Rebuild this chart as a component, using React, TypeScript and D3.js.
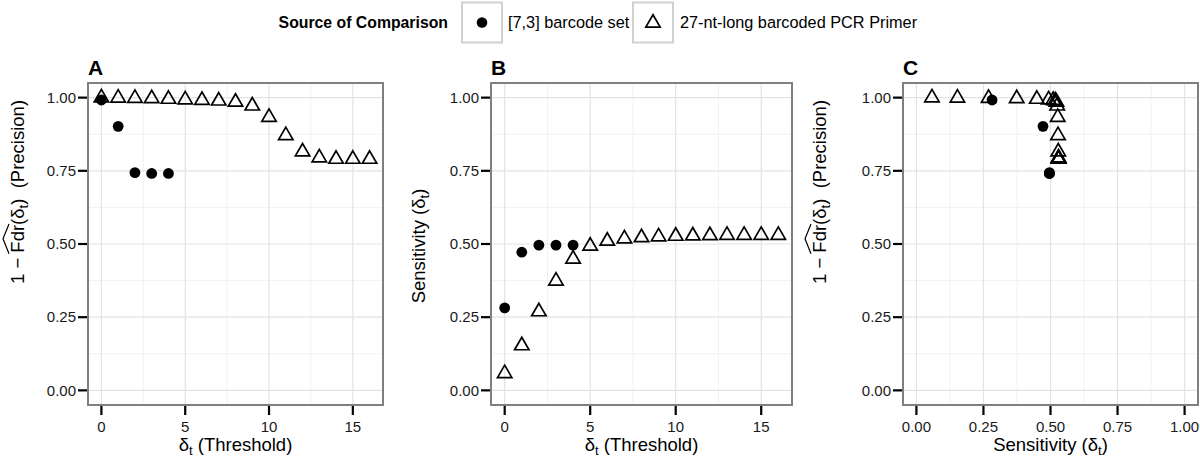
import { useEffect, useRef, useState } from "react";
import * as d3 from "d3";

// values
const barcodeThreshold = [0, 1, 2, 3, 4];
const barcodePrecision = [0.992, 0.902, 0.744, 0.741, 0.741];
const barcodeSensitivity = [0.282, 0.472, 0.496, 0.496, 0.496];

const primerThreshold = [0, 1, 2, 3, 4, 5, 6, 7, 8, 9, 10, 11, 12, 13, 14, 15, 16];
const primerPrecision = [1.0, 0.999, 0.998, 0.997, 0.995, 0.993, 0.991, 0.989, 0.985, 0.972, 0.933, 0.871, 0.815, 0.795, 0.79, 0.79, 0.79];
const primerSensitivity = [0.058, 0.153, 0.269, 0.374, 0.449, 0.493, 0.51, 0.518, 0.522, 0.525, 0.527, 0.528, 0.529, 0.53, 0.53, 0.53, 0.53];

const thresholdTicks = [0, 5, 10, 15];
const thresholdMinor = [2.5, 7.5, 12.5];
const unitTicks = [0, 0.25, 0.5, 0.75, 1];
const unitMinor = [0.125, 0.375, 0.625, 0.875];

const legendLabels = ["[7,3] barcode set", "27-nt-long barcoded PCR Primer"];

const FONT = "'Liberation Sans', Arial, Helvetica, sans-serif";
const top = 83, bottom = 405;
const TRI_R = 8.3;
const triPath = (r: number) =>
  `M0,${-r}L${(r * Math.sqrt(3)) / 2},${r / 2}L${(-r * Math.sqrt(3)) / 2},${r / 2}Z`;

const yScale = d3.scaleLinear().domain([-0.05, 1.05]).range([bottom, top]);

function FdrTitle({ x, y }: { x: number; y: number }) {
  const textRef = useRef<SVGTextElement>(null);
  const [hat, setHat] = useState<string | null>(null);
  useEffect(() => {
    const t = textRef.current;
    if (!t) return;
    const a = t.getExtentOfChar(4);
    const b = t.getExtentOfChar(6);
    const x0 = a.x - 1, x1 = b.x + b.width + 1;
    const yTop = a.y + 2;
    setHat(`M${x0},${yTop}L${(x0 + x1) / 2},${yTop - 6}L${x1},${yTop}`);
  }, []);
  return (
    <g transform={`translate(${x},${y}) rotate(-90)`}>
      <text ref={textRef} textAnchor="middle" fontSize={18.5} fontFamily={FONT} fill="#000" style={{ whiteSpace: "pre" }}>
        <tspan>{"1 − "}</tspan>
        <tspan>{"Fdr"}</tspan>
        <tspan>{"(δ"}</tspan>
        <tspan fontSize={13} dy={4}>t</tspan>
        <tspan dy={-4}>{")  (Precision)"}</tspan>
      </text>
      {hat && <path d={hat} fill="none" stroke="#000" strokeWidth={1.2} />}
    </g>
  );
}

function Panel({ letter, x0, x1, xDomain, xTicks, xMinor, xFormat, circles, triangles }: any) {
  const xScale = d3.scaleLinear().domain(xDomain).range([x0, x1]);
  const yFmt = d3.format(".2f");
  return (
    <g>
      <rect x={x0} y={top} width={x1 - x0} height={bottom - top} fill="#fff" />
      {xMinor.map((v: number) => (
        <line key={"xm" + v} x1={xScale(v)} x2={xScale(v)} y1={top} y2={bottom} stroke="#f2f2f2" strokeWidth={1} />
      ))}
      {unitMinor.map((v) => (
        <line key={"ym" + v} x1={x0} x2={x1} y1={yScale(v)} y2={yScale(v)} stroke="#f2f2f2" strokeWidth={1} />
      ))}
      {xTicks.map((v: number) => (
        <line key={"xg" + v} x1={xScale(v)} x2={xScale(v)} y1={top} y2={bottom} stroke="#e3e3e3" strokeWidth={1.2} />
      ))}
      {unitTicks.map((v) => (
        <line key={"yg" + v} x1={x0} x2={x1} y1={yScale(v)} y2={yScale(v)} stroke="#e3e3e3" strokeWidth={1.2} />
      ))}
      <rect x={x0} y={top} width={x1 - x0} height={bottom - top} fill="none" stroke="#7f7f7f" strokeWidth={2} />
      {/* y axis */}
      {unitTicks.map((v) => (
        <g key={"yt" + v}>
          <line x1={x0 - 10} x2={x0 - 1} y1={yScale(v)} y2={yScale(v)} stroke="#000" strokeWidth={2.2} />
          <text x={x0 - 12} y={yScale(v)} dy="0.35em" textAnchor="end" fontSize={15} fontFamily={FONT} fill="#1a1a1a">
            {yFmt(v)}
          </text>
        </g>
      ))}
      {/* x axis */}
      {xTicks.map((v: number) => (
        <g key={"xt" + v}>
          <line x1={xScale(v)} x2={xScale(v)} y1={bottom + 1} y2={bottom + 10} stroke="#000" strokeWidth={2.2} />
          <text x={xScale(v)} y={432} textAnchor="middle" fontSize={15} fontFamily={FONT} fill="#1a1a1a">
            {xFormat(v)}
          </text>
        </g>
      ))}
      <text x={x0} y={75} fontSize={21} fontWeight="bold" fontFamily={FONT}>{letter}</text>
      {triangles.map((d: number[], i: number) => (
        <path key={"t" + i} d={triPath(TRI_R)} transform={`translate(${xScale(d[0])},${yScale(d[1])})`}
          fill="none" stroke="#000" strokeWidth={1.7} strokeLinejoin="miter" />
      ))}
      {circles.map((d: number[], i: number) => (
        <circle key={"c" + i} cx={xScale(d[0])} cy={yScale(d[1])} r={5.4} fill="#000" />
      ))}
    </g>
  );
}

export default function App() {
  const intFmt = d3.format("d");
  const unitFmt = d3.format(".2f");
  const pA = {
    circles: barcodeThreshold.map((t, i) => [t, barcodePrecision[i]]),
    triangles: primerThreshold.map((t, i) => [t, primerPrecision[i]]),
  };
  const pB = {
    circles: barcodeThreshold.map((t, i) => [t, barcodeSensitivity[i]]),
    triangles: primerThreshold.map((t, i) => [t, primerSensitivity[i]]),
  };
  const pC = {
    circles: barcodeSensitivity.map((s, i) => [s, barcodePrecision[i]]),
    triangles: primerSensitivity.map((s, i) => [s, primerPrecision[i]]),
  };
  return (
    <svg width={1200} height={463} style={{ position: "absolute", left: 0, top: 0, background: "#fff" }}>
      <rect width={1200} height={463} fill="#fff" />
      {/* legend */}
      <text x={448} y={28} textAnchor="end" fontSize={15.8} fontWeight="bold" fontFamily={FONT}>Source of Comparison</text>
      <rect x={462} y={2.5} width={40} height={40} fill="#fff" stroke="#d0d0d0" strokeWidth={2} />
      <circle cx={482} cy={22.5} r={5.3} fill="#000" />
      <text x={508} y={28} fontSize={16.3} fontFamily={FONT}>{legendLabels[0]}</text>
      <rect x={633} y={2.5} width={40} height={40} fill="#fff" stroke="#d0d0d0" strokeWidth={2} />
      <path d={triPath(TRI_R)} transform="translate(653,23)" fill="none" stroke="#000" strokeWidth={1.7} />
      <text x={680} y={28} fontSize={16.3} fontFamily={FONT}>{legendLabels[1]}</text>

      <Panel letter="A" x0={88} x1={383} xDomain={[-0.8, 16.8]} xTicks={thresholdTicks} xMinor={thresholdMinor}
        xFormat={intFmt} {...pA} />
      <Panel letter="B" x0={491} x1={792} xDomain={[-0.8, 16.8]} xTicks={thresholdTicks} xMinor={thresholdMinor}
        xFormat={intFmt} {...pB} />
      <Panel letter="C" x0={903} x1={1198} xDomain={[-0.05, 1.05]} xTicks={unitTicks} xMinor={unitMinor}
        xFormat={unitFmt} {...pC} />

      {/* y titles */}
      <FdrTitle x={24} y={192} />
      <g transform="translate(425,246) rotate(-90)">
        <text textAnchor="middle" fontSize={18.5} fontFamily={FONT} style={{ whiteSpace: "pre" }}>
          <tspan>{"Sensitivity (δ"}</tspan>
          <tspan fontSize={13} dy={4}>t</tspan>
          <tspan dy={-4}>)</tspan>
        </text>
      </g>
      <FdrTitle x={826} y={192} />

      {/* x titles */}
      {[235.5, 641.5].map((cx) => (
        <text key={cx} x={cx} y={451} textAnchor="middle" fontSize={18.5} fontFamily={FONT} style={{ whiteSpace: "pre" }}>
          <tspan>δ</tspan>
          <tspan fontSize={13} dy={4}>t</tspan>
          <tspan dy={-4}>{" (Threshold)"}</tspan>
        </text>
      ))}
      <text x={1050.5} y={451} textAnchor="middle" fontSize={18.5} fontFamily={FONT} style={{ whiteSpace: "pre" }}>
        <tspan>{"Sensitivity (δ"}</tspan>
        <tspan fontSize={13} dy={4}>t</tspan>
        <tspan dy={-4}>)</tspan>
      </text>
    </svg>
  );
}
